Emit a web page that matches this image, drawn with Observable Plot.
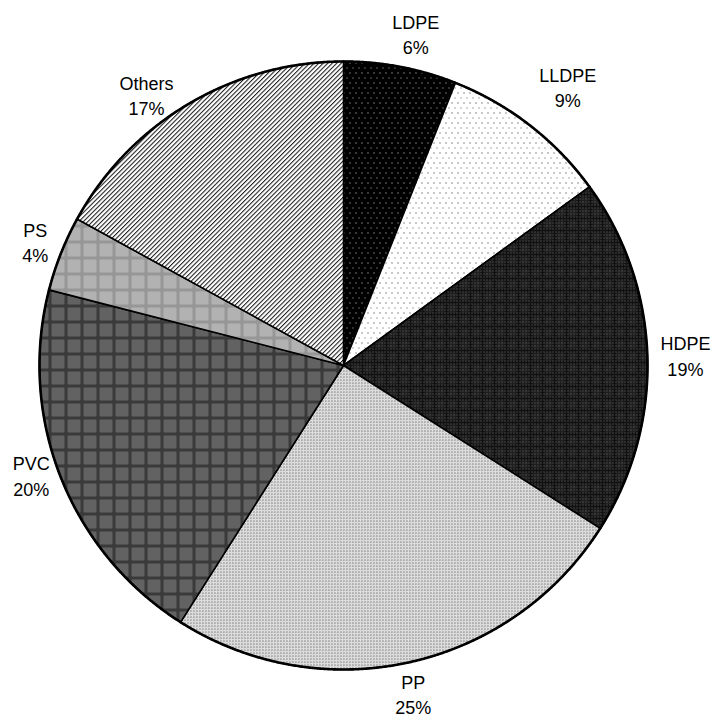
<!DOCTYPE html>
<html>
<head>
<meta charset="utf-8">
<script src="https://cdn.jsdelivr.net/npm/d3@7"></script>
<script src="https://cdn.jsdelivr.net/npm/@observablehq/plot@0.6"></script>
<style>
  html, body { margin: 0; padding: 0; background: #fff; }
  #chart svg { display: block; }
</style>
</head>
<body>
<div id="chart"></div>
<script>
// Polymer shares, clockwise from 12 o'clock
const polymers = ["LDPE", "LLDPE", "HDPE", "PP", "PVC", "PS", "Others"];
const shares = [6, 9, 19, 25, 20, 4, 17];

// Fill pattern used for each polymer
const patternIds = ["p-ldpe", "p-lldpe", "p-hdpe", "p-pp", "p-pvc", "p-ps", "p-others"];

// Layout of the pie inside the 711x720 drawing
const W = 711, H = 720, CX = 343, CY = 365, R = 304;
const labelRadius = 1.112;
// Per-label nudges in pixels [dx, dy], to keep labels clear of the rim
const labelNudge = [[9, 0], [17, -12], [4, 0], [-4, -2], [2, -15], [6, 0], [-25, 20]];

const arcs = d3.pie().sort(null).value(d => d)(shares);

// Slice outlines (centre + arc) and outer arcs, in unit-radius coordinates
const slicePts = [];
const rimPts = [];
arcs.forEach((a, i) => {
  const n = Math.max(2, Math.ceil((a.endAngle - a.startAngle) / (Math.PI / 720)));
  slicePts.push({polymer: polymers[i], fill: `url(#${patternIds[i]})`, x: 0, y: 0});
  for (let k = 0; k <= n; k++) {
    const t = a.startAngle + (a.endAngle - a.startAngle) * k / n;
    const p = {polymer: polymers[i], fill: `url(#${patternIds[i]})`, x: Math.sin(t), y: Math.cos(t)};
    slicePts.push(p);
    rimPts.push(p);
  }
});

const labels = arcs.map((a, i) => {
  const m = (a.startAngle + a.endAngle) / 2;
  const [dx, dy] = labelNudge[i];
  return {
    text: `${polymers[i]}\n${shares[i]}%`,
    x: labelRadius * Math.sin(m) + dx / R,
    y: labelRadius * Math.cos(m) - dy / R
  };
});

const chart = Plot.plot({
  width: W,
  height: H,
  margin: 0,
  x: {domain: [-CX / R, (W - CX) / R], axis: null},
  y: {domain: [-(H - CY) / R, CY / R], axis: null},
  color: {type: "identity"},
  marks: [
    Plot.line(slicePts, {x: "x", y: "y", z: "polymer", fill: "fill", stroke: "#000", strokeWidth: 1.6, curve: "linear-closed"}),
    Plot.line(rimPts, {x: "x", y: "y", z: "polymer", stroke: "#000", strokeWidth: 2.6, fill: "none"}),
    Plot.text(labels, {x: "x", y: "y", text: "text", fontSize: 18, lineHeight: 1.4, fill: "#000",
      fontFamily: "Liberation Sans, Arial, Helvetica, sans-serif", textAnchor: "middle"})
  ]
});

// Pattern definitions
const svg = d3.select(chart);
const defs = svg.insert("defs", ":first-child");

function pattern(id, w, h) {
  return defs.append("pattern").attr("id", id).attr("patternUnits", "userSpaceOnUse")
    .attr("width", w).attr("height", h);
}
function px(p, x, y, c, w = 1, h = 1) {
  p.append("rect").attr("x", x).attr("y", y).attr("width", w).attr("height", h).attr("fill", c);
}

// LDPE: black with sparse white dots
{
  const p = pattern("p-ldpe", 6, 10);
  px(p, 0, 0, "#000", 6, 10);
  px(p, 1, 2, "#d8d8d8");
  px(p, 4, 7, "#bdbdbd");
}
// LLDPE: white with sparse dark dots
{
  const p = pattern("p-lldpe", 6, 10);
  px(p, 0, 0, "#fff", 6, 10);
  px(p, 1, 2, "#222");
  px(p, 4, 7, "#555");
}
// HDPE: near-black plaid with a fine light dot grid
{
  const p = pattern("p-hdpe", 12, 12);
  px(p, 0, 0, "#111", 12, 12);
  for (let y = 0; y < 12; y++) for (let x = 0; x < 12; x++) {
    if ((x + y) % 2 === 0 && x > 3 && y > 3) px(p, x, y, "#2c2c2c");
  }
  for (let y = 0; y < 12; y += 3) for (let x = 0; x < 12; x += 3) px(p, x, y, "#6e6e6e");
}
// PP: light grey fine dither
{
  const p = pattern("p-pp", 3, 3);
  px(p, 0, 0, "#e2e2e2", 3, 3);
  px(p, 1, 1, "#3a3a3a");
  px(p, 0, 2, "#b8b8b8");
}
// PVC: medium-dark plaid
{
  const p = pattern("p-pvc", 16, 16);
  px(p, 0, 0, "#555", 16, 16);
  for (let y = 0; y < 16; y++) for (let x = 0; x < 16; x++) {
    const band = x < 3 || y < 3;
    const on = (x + y) % 2 === 0;
    if (band) px(p, x, y, on ? "#262626" : "#4e4e4e");
    else px(p, x, y, on ? "#363636" : "#8e8e8e");
  }
}
// PS: light plaid
{
  const p = pattern("p-ps", 16, 16);
  px(p, 0, 0, "#aaa", 16, 16);
  for (let y = 0; y < 16; y++) for (let x = 0; x < 16; x++) {
    const band = x < 3 || y < 3;
    const on = (x + y) % 2 === 0;
    if (band) px(p, x, y, on ? "#7a7a7a" : "#b4b4b4");
    else px(p, x, y, on ? "#767676" : "#eeeeee");
  }
}
// Others: fine upward diagonal hatching
{
  const p = pattern("p-others", 3.2, 3.2).attr("patternTransform", "rotate(45)");
  px(p, 0, 0, "#fff", 3.2, 3.2);
  px(p, 0, 0, "#1a1a1a", 1.05, 3.2);
}

document.getElementById("chart").appendChild(chart);
</script>
</body>
</html>
